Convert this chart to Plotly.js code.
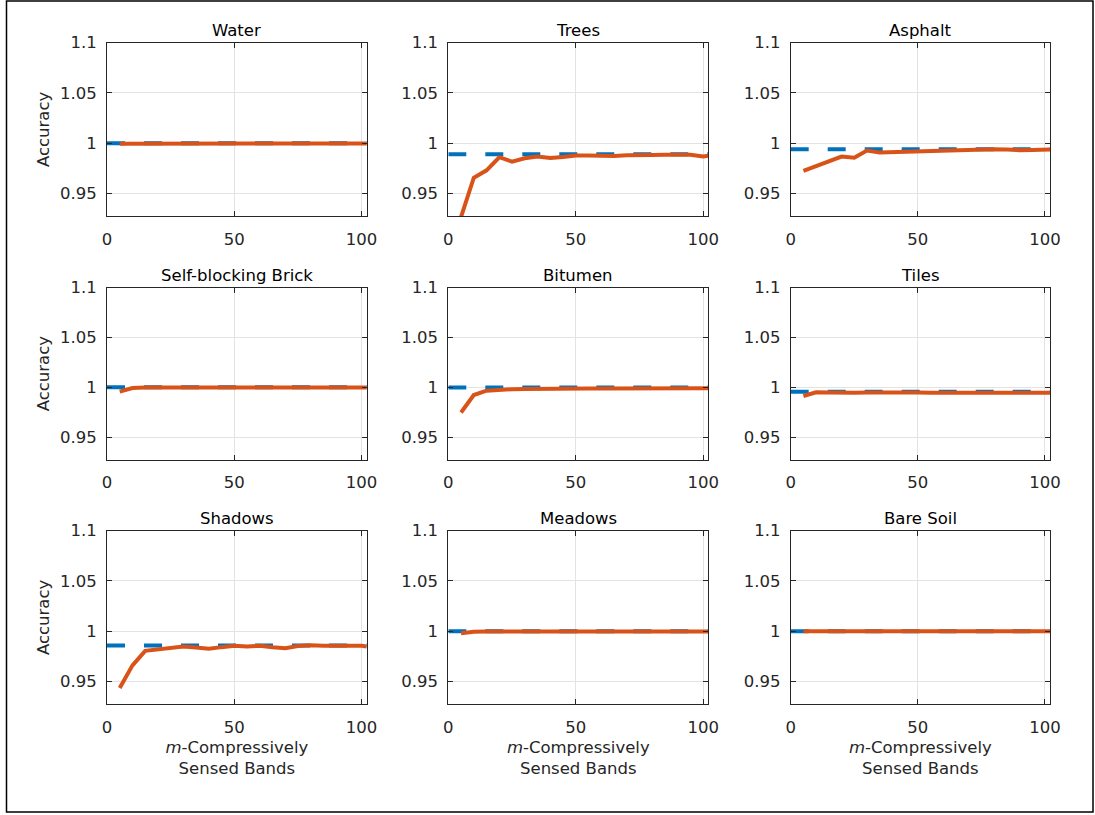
<!DOCTYPE html>
<html>
<head>
<meta charset="utf-8">
<script src="https://cdn.plot.ly/plotly-3.0.1.min.js"></script>
<style>
  html, body { margin: 0; padding: 0; background: #fff; }
  #chart { width: 1095px; height: 815px; }
</style>
</head>
<body>
<div id="chart"></div>
<script>
// Number of compressively sensed bands (m) used for each classification run
const bands = [5, 10, 15, 20, 25, 30, 35, 40, 45, 50, 55, 60, 65, 70, 75, 80, 85, 90, 95, 100, 102];

// Class names, in panel order (row by row)
const classNames = ["Water", "Trees", "Asphalt", "Self-blocking Brick", "Bitumen", "Tiles",
                    "Shadows", "Meadows", "Bare Soil"];

// Accuracy obtained with all bands (dashed reference line)
const fullBandAccuracy = [1.0, 0.989, 0.994, 1.0, 0.9998, 0.9956, 0.9858, 1.0, 1.0];
const fullBandSpan = [0, 102];

// Accuracy with m compressively sensed bands, per class
const waterAcc   = [0.9995, 0.9996, 0.9996, 0.9995, 0.9996, 0.9997, 0.9997, 0.9998, 0.9997, 0.9996, 0.9997,
                    0.9997, 0.9996, 0.9997, 0.9997, 0.9997, 0.9996, 0.9997, 0.9997, 0.9997, 0.9997];
const treesAcc   = [0.9265, 0.9656, 0.9730, 0.9860, 0.9816, 0.9850, 0.9866, 0.9853, 0.9863, 0.9876, 0.9876,
                    0.9870, 0.9872, 0.9880, 0.9876, 0.9882, 0.9885, 0.9888, 0.9885, 0.9868, 0.9875];
const asphaltAcc = [0.9723, 0.9773, 0.9823, 0.9866, 0.9856, 0.9927, 0.9906, 0.9910, 0.9916, 0.9920, 0.9923,
                    0.9927, 0.9930, 0.9937, 0.9940, 0.9940, 0.9937, 0.9930, 0.9933, 0.9937, 0.9937];
const brickAcc   = [0.9956, 0.9992, 0.9997, 0.9998, 0.9997, 0.9998, 0.9998, 0.9999, 0.9999, 0.9999, 0.9999,
                    0.9999, 0.9999, 0.9999, 0.9999, 0.9999, 0.9998, 0.9999, 0.9999, 0.9999, 0.9999];
const bitumenAcc = [0.9747, 0.9922, 0.9966, 0.9978, 0.9981, 0.9982, 0.9985, 0.9986, 0.9988, 0.9989, 0.9988,
                    0.9987, 0.9988, 0.9989, 0.9990, 0.9989, 0.9988, 0.9989, 0.9990, 0.9990, 0.9990];
const tilesAcc   = [0.9913, 0.9950, 0.9948, 0.9944, 0.9944, 0.9947, 0.9949, 0.9948, 0.9946, 0.9947, 0.9946,
                    0.9947, 0.9947, 0.9948, 0.9948, 0.9947, 0.9946, 0.9945, 0.9946, 0.9946, 0.9946];
const shadowsAcc = [0.9435, 0.9660, 0.9804, 0.9817, 0.9831, 0.9848, 0.9838, 0.9824, 0.9841, 0.9855, 0.9848,
                    0.9855, 0.9841, 0.9831, 0.9852, 0.9861, 0.9855, 0.9855, 0.9865, 0.9855, 0.9848];
const meadowsAcc = [0.9980, 0.9994, 0.9996, 0.9996, 0.9997, 0.9996, 0.9997, 0.9997, 0.9996, 0.9997, 0.9997,
                    0.9997, 0.9996, 0.9997, 0.9997, 0.9997, 0.9996, 0.9996, 0.9997, 0.9996, 0.9997];
const soilAcc    = [0.9998, 0.9999, 0.9999, 0.9999, 0.9999, 0.9999, 0.9999, 0.9999, 0.9999, 0.9999, 0.9999,
                    0.9999, 0.9999, 0.9999, 0.9999, 0.9999, 0.9999, 0.9999, 0.9999, 0.9999, 0.9999];

const classAccuracy = [waterAcc, treesAcc, asphaltAcc, brickAcc, bitumenAcc, tilesAcc,
                       shadowsAcc, meadowsAcc, soilAcc];

// Axis ticks
const xTickVals = [0, 50, 100];
const xTickText = ["0", "50", "100"];
const yTickVals = [0.95, 1, 1.05, 1.1];
const yTickText = ["0.95", "1", "1.05", "1.1"];

// Figure geometry (pixels)
const W = 1095, H = 815;
const colPx = [[107, 366.7], [448.3, 708.3], [790.7, 1050]];
const rowPx = [[42.7, 216], [287.7, 459.5], [530.7, 704]];

const BLUE = "#0072BD";
const ORANGE = "#D95319";
const INK = "#262626";
const FONT = "DejaVu Sans, sans-serif";

const traces = [];
const layout = {
  width: W, height: H,
  margin: {l: 0, r: 0, t: 0, b: 0},
  paper_bgcolor: "#ffffff",
  plot_bgcolor: "#ffffff",
  showlegend: false,
  font: {family: FONT, size: 16.5, color: INK},
  annotations: [],
  shapes: [{
    type: "rect", xref: "paper", yref: "paper",
    x0: 6.5 / W, x1: 1093 / W, y0: 1 - 812 / H, y1: 1 - 1 / H,
    line: {color: "#000000", width: 1.5}, fillcolor: "rgba(0,0,0,0)"
  }]
};

classNames.forEach((name, i) => {
  const row = Math.floor(i / 3), col = i % 3;
  const k = i === 0 ? "" : String(i + 1);
  const xa = "x" + k, ya = "y" + k;

  traces.push({
    x: fullBandSpan, y: [fullBandAccuracy[i], fullBandAccuracy[i]],
    xaxis: xa, yaxis: ya, mode: "lines", hoverinfo: "skip",
    line: {color: BLUE, width: 4, dash: "18px,19px"}
  });
  traces.push({
    x: bands, y: classAccuracy[i],
    xaxis: xa, yaxis: ya, mode: "lines",
    line: {color: ORANGE, width: 4}
  });

  const xd = [colPx[col][0] / W, colPx[col][1] / W];
  const yd = [1 - rowPx[row][1] / H, 1 - rowPx[row][0] / H];

  layout["xaxis" + k] = {
    domain: xd, anchor: ya, range: [0, 102],
    tickmode: "array", tickvals: xTickVals, ticktext: xTickText,
    ticks: "inside", ticklen: 5, tickcolor: INK, tickwidth: 1,
    showline: true, linecolor: INK, linewidth: 1, mirror: "allticks",
    showgrid: true, gridcolor: "#e3e3e3", gridwidth: 1, zeroline: false,
    ticklabelstandoff: 8,
    tickfont: {family: FONT, size: 16.5, color: INK},
    title: row === 2 ? {
      text: "<i>m</i>-Compressively<br>Sensed Bands",
      font: {family: FONT, size: 16.5, color: INK}, standoff: 5
    } : {text: ""}
  };
  layout["yaxis" + k] = {
    domain: yd, anchor: xa, range: [0.9275, 1.1],
    tickmode: "array", tickvals: yTickVals, ticktext: yTickText,
    ticks: "inside", ticklen: 5, tickcolor: INK, tickwidth: 1,
    showline: true, linecolor: INK, linewidth: 1, mirror: "allticks",
    showgrid: true, gridcolor: "#e3e3e3", gridwidth: 1, zeroline: false,
    ticklabelstandoff: 6,
    tickfont: {family: FONT, size: 16.5, color: INK},
    title: col === 0 ? {
      text: "Accuracy", font: {family: FONT, size: 16.5, color: INK}, standoff: 6
    } : {text: ""}
  };

  // Panel title
  layout.annotations.push({
    text: name, xref: "paper", yref: "paper",
    x: (xd[0] + xd[1]) / 2, y: yd[1], xanchor: "center", yanchor: "bottom",
    yshift: 1, showarrow: false,
    font: {family: FONT, size: 16.5, color: "#000000"}
  });
});

Plotly.newPlot("chart", traces, layout, {staticPlot: true, displayModeBar: false});
</script>
</body>
</html>
